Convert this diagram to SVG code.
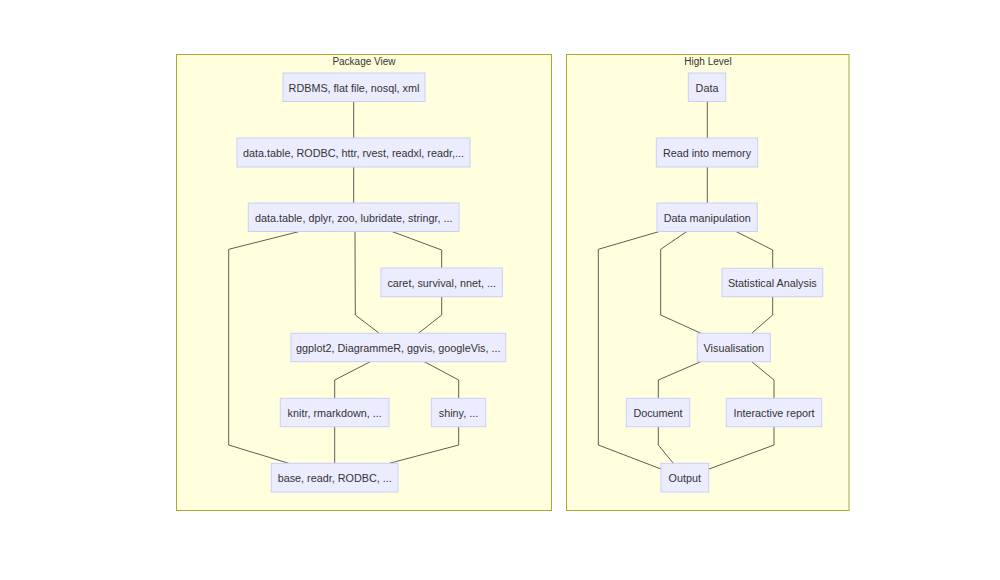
<svg xmlns="http://www.w3.org/2000/svg" width="1000" height="580" viewBox="0 0 1000 580">
<style>
.cluster rect{fill:#ffffde;stroke:#aaaa33;stroke-width:1}
.cluster text{font-family:"Liberation Sans",Arial,sans-serif;font-size:10px;fill:#333;text-anchor:middle}
.node rect{fill:#ECECFF;stroke:#CCCCFF;stroke-width:1}
.node text{font-family:"Liberation Sans",Arial,sans-serif;font-size:10.8px;fill:#333;text-anchor:middle;dominant-baseline:central}
.edges polyline{fill:none;stroke:#333;stroke-width:0.8}
</style>
<rect width="1000" height="580" fill="#fff"/>
<g id="cluster-package" class="cluster">
<rect x="176.5" y="54.5" width="375" height="456"/>
<text x="364" y="65.3">Package View</text>
</g>
<g id="cluster-high" class="cluster">
<rect x="566.5" y="54.5" width="282.5" height="456"/>
<text x="708" y="65.3">High Level</text>
</g>
<g id="connectors" class="edges">
<polyline points="353.7,101 353.7,138"/>
<polyline points="353.7,167 353.7,203"/>
<polyline points="299.3,231.5 228.7,249.3 228.7,445 288.7,463.3"/>
<polyline points="355,231.5 355.3,315 379.3,333.3"/>
<polyline points="392,231.5 441.7,250 441.7,268"/>
<polyline points="441.7,296.7 441.7,315 418.3,333.3"/>
<polyline points="370.3,361.7 334.7,380 334.7,398"/>
<polyline points="424.3,361.7 458.7,380 458.7,398"/>
<polyline points="334.7,426.7 334.7,463.3"/>
<polyline points="458.7,426.7 458.7,445 389.3,463.3"/>
<polyline points="707.3,101 707.3,138"/>
<polyline points="707.3,167 707.3,203"/>
<polyline points="659.3,231.5 598.3,249.3 598.3,445 661,469"/>
<polyline points="686.7,231.5 660.7,249.3 660.7,315 701,333.3"/>
<polyline points="736,231.5 772.7,250 772.7,268"/>
<polyline points="772.7,296.7 772.7,315 751.7,333.3"/>
<polyline points="700.7,361.7 658.3,380 658.3,398"/>
<polyline points="751.7,361.7 774,380 774,398"/>
<polyline points="658.3,426.7 658.3,445 673.3,463.3"/>
<polyline points="774,426.7 774,445 709,469"/>
</g>
<g id="n-rdbms" class="node"><rect x="283" y="73" width="142" height="28.5"/><text x="354" y="88">RDBMS, flat file, nosql, xml</text></g>
<g id="n-import" class="node"><rect x="237" y="138" width="233" height="29"/><text x="353.5" y="153.3">data.table, RODBC, httr, rvest, readxl, readr,...</text></g>
<g id="n-manip" class="node"><rect x="248.3" y="203" width="210.7" height="28.5"/><text x="353.7" y="218">data.table, dplyr, zoo, lubridate, stringr, ...</text></g>
<g id="n-stats" class="node"><rect x="381" y="268" width="121.3" height="28.7"/><text x="441.7" y="283.1">caret, survival, nnet, ...</text></g>
<g id="n-vis" class="node"><rect x="291" y="333.3" width="214.7" height="28.4"/><text x="398.3" y="348.3">ggplot2, DiagrammeR, ggvis, googleVis, ...</text></g>
<g id="n-knitr" class="node"><rect x="280.3" y="398.3" width="108.7" height="28.4"/><text x="334.7" y="413.3">knitr, rmarkdown, ...</text></g>
<g id="n-shiny" class="node"><rect x="431.3" y="398.3" width="54.4" height="28.4"/><text x="458.5" y="413.3">shiny, ...</text></g>
<g id="n-base" class="node"><rect x="271.3" y="463.3" width="126.7" height="28.7"/><text x="334.7" y="478.4">base, readr, RODBC, ...</text></g>
<g id="h-data" class="node"><rect x="688.3" y="73" width="37.4" height="28.5"/><text x="707" y="88">Data</text></g>
<g id="h-read" class="node"><rect x="656.3" y="138" width="101.4" height="29"/><text x="707" y="153.3">Read into memory</text></g>
<g id="h-manip" class="node"><rect x="657" y="203" width="100.3" height="28.5"/><text x="707.2" y="218">Data manipulation</text></g>
<g id="h-stats" class="node"><rect x="722" y="268.3" width="100.7" height="28.4"/><text x="772.3" y="283.3">Statistical Analysis</text></g>
<g id="h-vis" class="node"><rect x="697.3" y="333.3" width="73" height="28.4"/><text x="733.8" y="348.3">Visualisation</text></g>
<g id="h-doc" class="node"><rect x="626.3" y="398.3" width="63.4" height="28.4"/><text x="658" y="413.3">Document</text></g>
<g id="h-inter" class="node"><rect x="726.3" y="398.3" width="95.4" height="28.4"/><text x="774" y="413.3">Interactive report</text></g>
<g id="h-out" class="node"><rect x="661" y="463.3" width="47.7" height="28.7"/><text x="684.8" y="478.4">Output</text></g>
</svg>
